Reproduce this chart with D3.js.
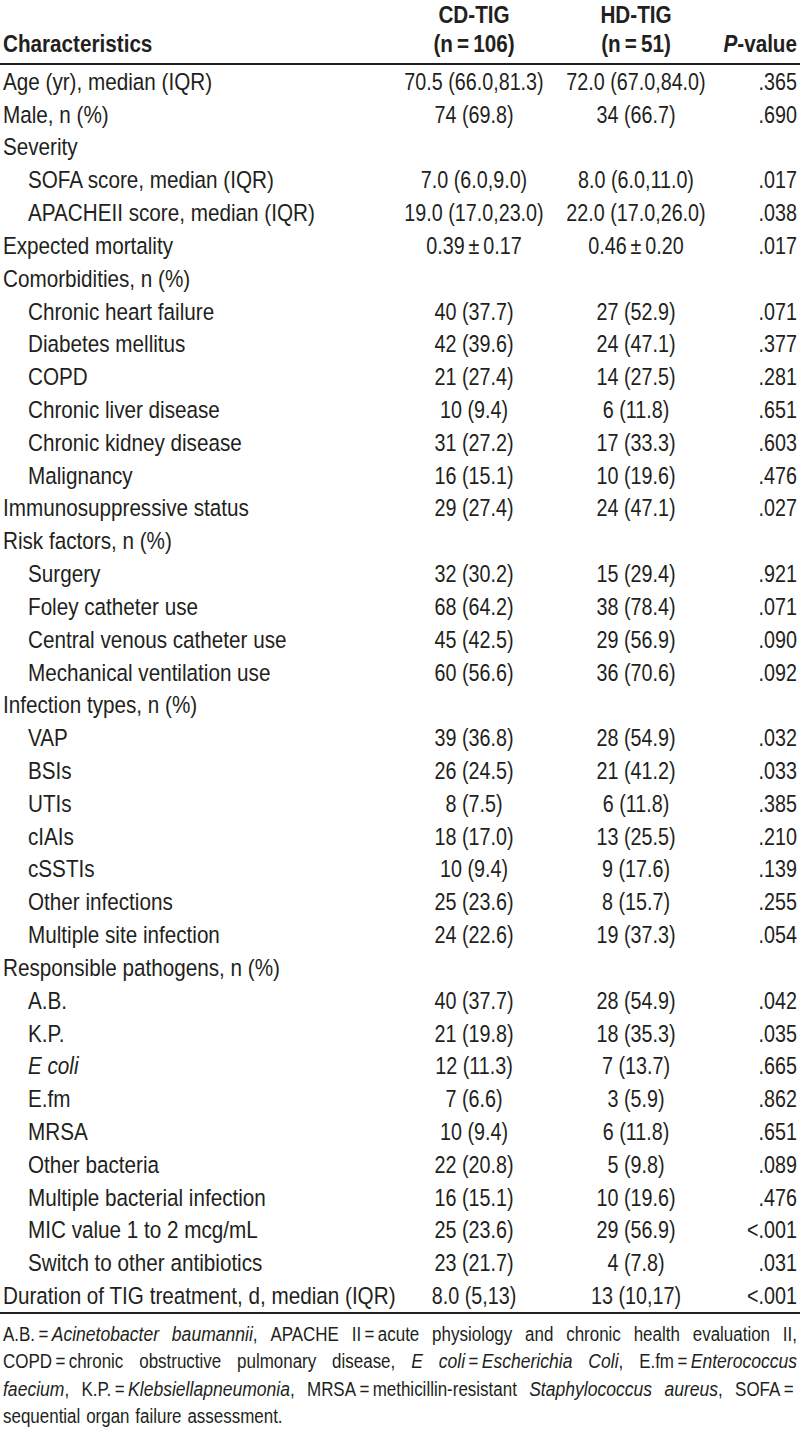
<!DOCTYPE html>
<html>
<head>
<meta charset="utf-8">
<script src="https://cdn.jsdelivr.net/npm/d3@7"></script>
<style>
  body { margin: 0; background: #fff; }
  svg text { font-family: "Liberation Sans", Arial, Helvetica, sans-serif; fill: #231f20; }
</style>
</head>
<body>
<div id="chart"></div>
<script>
// Table data, one entry per row
const labels = [
  'Age (yr), median (IQR)', 'Male, n (%)', 'Severity',
  'SOFA score, median (IQR)', 'APACHEII score, median (IQR)',
  'Expected mortality', 'Comorbidities, n (%)',
  'Chronic heart failure', 'Diabetes mellitus', 'COPD', 'Chronic liver disease',
  'Chronic kidney disease', 'Malignancy', 'Immunosuppressive status',
  'Risk factors, n (%)', 'Surgery', 'Foley catheter use', 'Central venous catheter use',
  'Mechanical ventilation use', 'Infection types, n (%)', 'VAP', 'BSIs', 'UTIs',
  'cIAIs', 'cSSTIs', 'Other infections', 'Multiple site infection',
  'Responsible pathogens, n (%)', 'A.B.', 'K.P.', 'E coli', 'E.fm', 'MRSA',
  'Other bacteria', 'Multiple bacterial infection', 'MIC value 1 to 2 mcg/mL',
  'Switch to other antibiotics', 'Duration of TIG treatment, d, median (IQR)'
];
const indented = [
  0, 0, 0, 1, 1, 0, 0, 1, 1, 1, 1, 1, 1, 0, 0, 1, 1, 1, 1, 0,
  1, 1, 1, 1, 1, 1, 1, 0, 1, 1, 1, 1, 1, 1, 1, 1, 1, 0
];
const italicLabels = ['E coli'];
const cdValues = [
  '70.5 (66.0,81.3)', '74 (69.8)', '', '7.0 (6.0,9.0)', '19.0 (17.0,23.0)',
  '0.39\u2009±\u20090.17', '', '40 (37.7)', '42 (39.6)', '21 (27.4)', '10 (9.4)',
  '31 (27.2)', '16 (15.1)', '29 (27.4)', '', '32 (30.2)', '68 (64.2)', '45 (42.5)',
  '60 (56.6)', '', '39 (36.8)', '26 (24.5)', '8 (7.5)', '18 (17.0)', '10 (9.4)',
  '25 (23.6)', '24 (22.6)', '', '40 (37.7)', '21 (19.8)', '12 (11.3)', '7 (6.6)',
  '10 (9.4)', '22 (20.8)', '16 (15.1)', '25 (23.6)', '23 (21.7)', '8.0 (5,13)'
];
const hdValues = [
  '72.0 (67.0,84.0)', '34 (66.7)', '', '8.0 (6.0,11.0)', '22.0 (17.0,26.0)',
  '0.46\u2009±\u20090.20', '', '27 (52.9)', '24 (47.1)', '14 (27.5)', '6 (11.8)',
  '17 (33.3)', '10 (19.6)', '24 (47.1)', '', '15 (29.4)', '38 (78.4)', '29 (56.9)',
  '36 (70.6)', '', '28 (54.9)', '21 (41.2)', '6 (11.8)', '13 (25.5)', '9 (17.6)',
  '8 (15.7)', '19 (37.3)', '', '28 (54.9)', '18 (35.3)', '7 (13.7)', '3 (5.9)',
  '6 (11.8)', '5 (9.8)', '10 (19.6)', '29 (56.9)', '4 (7.8)', '13 (10,17)'
];
const pValues = [
  '.365', '.690', '', '.017', '.038', '.017', '', '.071', '.377', '.281', '.651',
  '.603', '.476', '.027', '', '.921', '.071', '.090', '.092', '', '.032', '.033',
  '.385', '.210', '.139', '.255', '.054', '', '.042', '.035', '.665', '.862',
  '.651', '.089', '.476', '<.001', '.031', '<.001'
];
const groupNames = ['CD-TIG', 'HD-TIG'];
const groupSizes = ['(n\u2009=\u2009106)', '(n\u2009=\u200951)'];
// footnote lines; *word* marks italics
const footnoteLines = [
  'A.B.=*Acinetobacter* *baumannii*, APACHE II=acute physiology and chronic health evaluation II,',
  'COPD=chronic obstructive pulmonary disease, *E* *coli*=*Escherichia* *Coli*, E.fm=*Enterococcus*',
  '*faecium*, K.P.=*Klebsiellapneumonia*, MRSA=methicillin-resistant *Staphylococcus* *aureus*, SOFA=',
  'sequential organ failure assessment.'
];

const width = 800, height = 1441;
const fontSize = 23.5, noteSize = 19.5;
// horizontal squeeze to mimic the condensed face of the original
const sxLabel = 0.88, sxValue = 0.84, sxBold = 0.88, sxNote = 0.87, sxNoteItalic = 0.9;
const topRule = 64, bottomRule = 1313;

const svg = d3.select('#chart').append('svg')
  .attr('width', width)
  .attr('height', height);

const y = d3.scaleBand()
  .domain(d3.range(labels.length))
  .range([topRule + 1, bottomRule - 1]);

const col = d3.scaleOrdinal()
  .domain(['cd', 'hd', 'p'])
  .range([474, 636, 797]);

function squeezed(g, x, sx, anchor) {
  return g.append('text')
    .attr('transform', `translate(${x},0) scale(${sx},1)`)
    .attr('text-anchor', anchor || null);
}

// Header
const head = svg.append('g').attr('font-weight', 'bold').attr('font-size', fontSize);
const h1 = head.append('g').attr('transform', 'translate(0,23)');
const h2 = head.append('g').attr('transform', 'translate(0,52)');
squeezed(h2, 3, sxBold).text('Characteristics');
groupNames.forEach((g, i) => {
  const cx = col(i === 0 ? 'cd' : 'hd');
  squeezed(h1, cx, sxBold, 'middle').text(g);
  squeezed(h2, cx, sxBold, 'middle').text(groupSizes[i]);
});
const pv = squeezed(h2, col('p'), sxBold, 'end');
pv.append('tspan').attr('font-style', 'italic').text('P');
pv.append('tspan').text('-value');

svg.append('line').attr('x1', 0).attr('x2', width).attr('y1', topRule).attr('y2', topRule)
  .attr('stroke', '#231f20').attr('stroke-width', 2);
svg.append('line').attr('x1', 0).attr('x2', width).attr('y1', bottomRule).attr('y2', bottomRule)
  .attr('stroke', '#231f20').attr('stroke-width', 2);

// Body rows
const rows = svg.append('g').attr('font-size', fontSize)
  .selectAll('g')
  .data(labels.map((d, i) => i))
  .join('g')
  .attr('transform', i => `translate(0,${y(i) + y.bandwidth() / 2 + fontSize * 0.36})`);

rows.each(function (i) {
  const r = d3.select(this);
  squeezed(r, indented[i] ? 28 : 3, sxLabel)
    .attr('font-style', italicLabels.includes(labels[i]) ? 'italic' : null)
    .text(labels[i]);
  squeezed(r, col('cd'), sxValue, 'middle').text(cdValues[i]);
  squeezed(r, col('hd'), sxValue, 'middle').text(hdValues[i]);
  squeezed(r, col('p'), sxValue, 'end').text(pValues[i]);
});

// Footnote, justified word by word
const note = svg.append('g').attr('font-size', noteSize);
const noteLeft = 3, noteRight = 797, noteTop = 1341, notePitch = 27.3;

// a word is one group of roman / italic pieces laid side by side
function addWord(parent, word) {
  const g = parent.append('g');
  let w = 0;
  word.split(/(\*[^*]+\*)/).filter(s => s).forEach(s => {
    const it = s.startsWith('*');
    const sx = it ? sxNoteItalic : sxNote;
    const t = g.append('text')
      .attr('transform', `translate(${w},0) scale(${sx},1)`)
      .attr('font-style', it ? 'italic' : null)
      .text((it ? s.slice(1, -1) : s).replace(/=/g, '\u2009=\u2009'));
    w += t.node().getComputedTextLength() * sx;
  });
  return { g, w };
}

footnoteLines.forEach((line, li) => {
  const row = note.append('g').attr('transform', `translate(0,${noteTop + li * notePitch})`);
  const words = line.split(' ').map(w => addWord(row, w));
  const last = li === footnoteLines.length - 1;
  const gap = last ? noteSize * 0.3
    : (noteRight - noteLeft - d3.sum(words, d => d.w)) / (words.length - 1);
  let x = noteLeft;
  words.forEach(d => {
    d.g.attr('transform', `translate(${x},0)`);
    x += d.w + gap;
  });
});
</script>
</body>
</html>
